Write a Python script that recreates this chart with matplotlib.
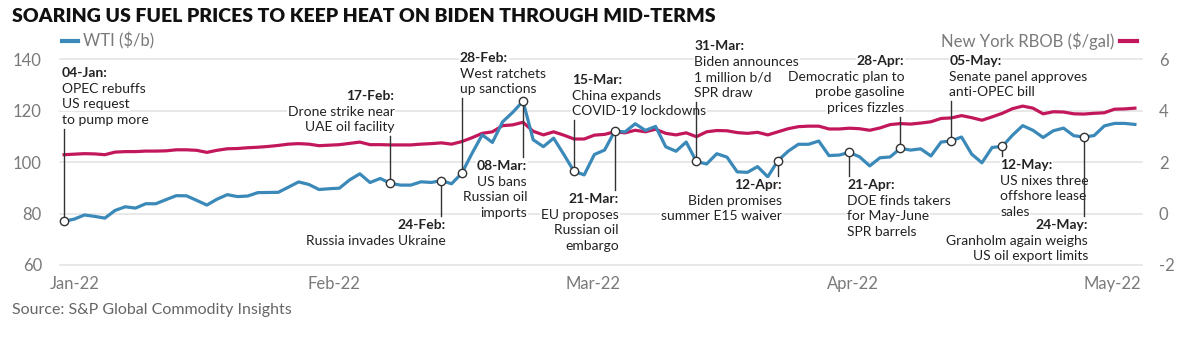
import numpy as np
import pandas as pd
import matplotlib
matplotlib.use('Agg')
import matplotlib.pyplot as plt
from matplotlib.lines import Line2D

# weekday series, 04-Jan to 31-May 2022 (holidays carry the previous value)
dates = pd.bdate_range('2022-01-04', '2022-05-31')

wti = [76.99, 77.85, 79.46, 78.90, 78.23, 81.22, 82.64, 82.12, 83.82, 83.82,
       85.43, 86.96, 86.90, 85.14, 83.31, 85.60, 87.35, 86.61, 86.82, 88.15,
       88.20, 88.26, 90.27, 92.31, 91.32, 89.36, 89.66, 89.88, 93.10, 95.46,
       92.07, 93.66, 91.76, 91.07, 91.07, 92.35, 92.10, 92.81, 91.59, 95.72,
       103.41, 110.60, 107.67, 115.68, 119.40, 123.70, 108.70, 106.02, 109.33, 103.01,
       96.44, 95.04, 102.98, 104.70, 112.12, 111.76, 114.93, 112.34, 113.90, 105.96,
       104.24, 107.82, 100.28,
       99.27, 103.28, 101.96, 96.23, 96.03, 98.26, 94.29, 100.60, 104.25, 106.95,
       106.95, 108.21, 102.56, 102.75, 103.79, 102.07, 98.54, 101.70, 102.02, 105.36,
       104.69,
       105.17, 102.41, 107.81, 108.26, 109.77, 103.09, 99.76, 105.71, 106.13, 110.49,
       114.20, 112.40, 109.59, 112.21, 113.23, 110.29, 109.77, 110.33, 114.09, 115.07,
       115.07, 114.67]

rbob = [2.29, 2.31, 2.33, 2.32, 2.29, 2.39, 2.41, 2.41, 2.43, 2.43,
        2.44, 2.48, 2.48, 2.46, 2.38, 2.46, 2.52, 2.53, 2.56, 2.58,
        2.61, 2.65, 2.70, 2.72, 2.70, 2.64, 2.66, 2.68, 2.73, 2.78,
        2.68, 2.68, 2.67, 2.67, 2.67, 2.70, 2.72, 2.75, 2.70, 2.80,
        2.95, 3.12, 3.18, 3.42, 3.45, 3.55, 3.20, 3.06, 3.18, 3.05,
        2.90, 2.90, 3.05, 3.08, 3.18, 3.14, 3.24, 3.18, 3.28, 3.12,
        3.06, 3.14, 2.99,
        3.18, 3.23, 3.22, 3.15, 3.12, 3.16, 3.06, 3.18, 3.30, 3.38,
        3.40, 3.40, 3.29, 3.29, 3.32, 3.30, 3.24, 3.33, 3.46, 3.50,
        3.48,
        3.52, 3.57, 3.70, 3.72, 3.81, 3.73, 3.63, 3.76, 3.90, 4.08,
        4.18, 4.10, 3.88, 3.96, 3.95, 3.88, 3.87, 3.90, 3.92, 4.06,
        4.07, 4.10]

month_labels = ['Jan-22', 'Feb-22', 'Mar-22', 'Apr-22', 'May-22']

event_dates = ['2022-01-04', '2022-02-17', '2022-02-24', '2022-02-28', '2022-03-08',
               '2022-03-15', '2022-03-21', '2022-03-31', '2022-04-12', '2022-04-21',
               '2022-04-28', '2022-05-05', '2022-05-12', '2022-05-24']
event_titles = ['04-Jan:', '17-Feb:', '24-Feb:', '28-Feb:', '08-Mar:', '15-Mar:', '21-Mar:',
                '31-Mar:', '12-Apr:', '21-Apr:', '28-Apr:', '05-May:', '12-May:', '24-May:']
event_texts = ['OPEC rebuffs\nUS request\nto pump more',
               'Drone strike near\nUAE oil facility',
               'Russia invades Ukraine',
               'West ratchets\nup sanctions',
               'US bans\nRussian oil\nimports',
               'China expands\nCOVID-19 lockdowns',
               'EU proposes\nRussian oil\nembargo',
               'Biden announces\n1 million b/d\nSPR draw',
               'Biden promises\nsummer E15 waiver',
               'DOE finds takers\nfor May-June\nSPR barrels',
               'Democratic plan to\nprobe gasoline\nprices fizzles',
               'Senate panel approves\nanti-OPEC bill',
               'US nixes three\noffshore lease\nsales',
               'Granholm again weighs\nUS oil export limits']

# layout of the annotation blocks: y of first line (WTI units) and side
label_y = [134.7, 125.7, 75.6, 140.5, 98.5, 132.0, 85.7, 145.2, 91.1, 91.1,
           139.3, 139.3, 98.9, 75.6]
label_ha = ['left', 'right', 'right', 'left', 'right', 'left', 'right', 'left',
            'right', 'left', 'right', 'left', 'left', 'right']

BLUE = '#3a89b9'
MAG = '#c2185b'
GREY = '#7a7a7a'
INK = '#222222'
LINE_STEP = 6.1   # line spacing in WTI units
GAP = 3.5

plt.rcParams['font.family'] = ['Lato', 'DejaVu Sans']

fig = plt.figure(figsize=(12, 3.41), dpi=100)
ax = fig.add_axes([0.05, 0.2229, 0.9017, 0.6032])
ax_r = ax.twinx()
ax.set_zorder(ax_r.get_zorder() + 1)
ax.patch.set_visible(False)

idx = np.arange(len(dates))

ax_r.plot(idx, rbob, color=MAG, lw=2.3, zorder=2, solid_joinstyle='round')
ax.plot(idx, wti, color=BLUE, lw=2.3, zorder=2, solid_joinstyle='round')

ax.set_xlim(-0.4, 105.7)
ax.set_ylim(60, 140)
ax_r.set_ylim(-2, 6)
ax.set_yticks(range(60, 141, 20))
ax_r.set_yticks(range(-2, 7, 2))
ax_r.set_yticklabels([str(v) for v in range(-2, 7, 2)])
ax.set_xticks(np.linspace(1.0, 102.8, len(month_labels)))
ax.set_xticklabels(month_labels)

ax_r.grid(axis='y', color='#e4e4e4', lw=1.2)
ax.grid(False)
for gl in ax_r.get_ygridlines():
    gl.set_clip_on(False)

for a in (ax, ax_r):
    for s in a.spines.values():
        s.set_visible(False)
ax.tick_params(axis='y', length=0, pad=13, labelsize=12, labelcolor=GREY)
ax_r.tick_params(axis='y', length=0, pad=12, labelsize=12, labelcolor=GREY)
ax.tick_params(axis='x', length=0, pad=8, labelsize=12, labelcolor=GREY)

# events
for d, title, body, y0, ha in zip(event_dates, event_titles, event_texts, label_y, label_ha):
    i = dates.get_loc(pd.Timestamp(d))
    val = wti[i]
    lines = [title] + body.split('\n')
    if y0 > val:
        end = y0 - (len(lines) - 1) * LINE_STEP - GAP
    else:
        end = y0 + GAP
    ax.plot([i, i], [val, end], color='#333333', lw=1, zorder=4, clip_on=False)
    ax.plot(i, val, 'o', ms=6, mfc='white', mec='#333333', mew=1, zorder=5, clip_on=False)
    tx = i - 0.2 if ha == 'left' else i + 0.4
    for k, line in enumerate(lines):
        ax.text(tx, y0 - k * LINE_STEP, line, ha=ha, va='center', fontsize=10,
                fontweight='bold' if k == 0 else 'normal', color=INK, zorder=3,
                bbox=dict(fc='white', ec='none', pad=0.5))

# legend
ly = 0.879
fig.add_artist(Line2D([62 / 1200, 78 / 1200], [ly, ly], color=BLUE, lw=3))
fig.text(83 / 1200, ly, 'WTI ($/b)', ha='left', va='center', fontsize=12, color=GREY)
fig.add_artist(Line2D([1120 / 1200, 1137 / 1200], [ly, ly], color=MAG, lw=3))
fig.text(1114 / 1200, ly, 'New York RBOB ($/gal)', ha='right', va='center', fontsize=12, color=GREY)

fig.text(12 / 1200, 0.953, 'SOARING US FUEL PRICES TO KEEP HEAT ON BIDEN THROUGH MID-TERMS',
         ha='left', va='center', fontsize=14, fontweight='heavy', color='#111111')
fig.text(12 / 1200, 0.091, 'Source: S&P Global Commodity Insights',
         ha='left', va='center', fontsize=11.5, color='#666666')

fig.savefig('out.png', dpi=100, facecolor='white')
